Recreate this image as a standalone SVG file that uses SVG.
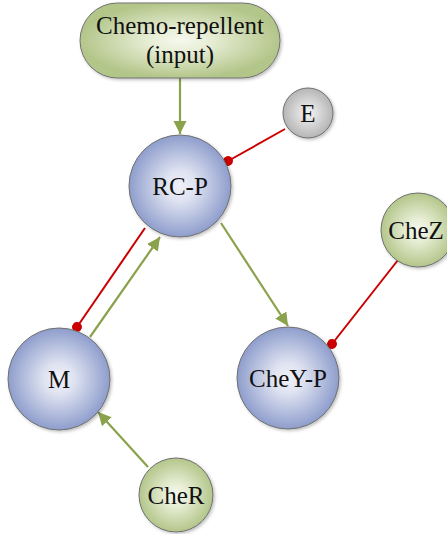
<svg xmlns="http://www.w3.org/2000/svg" width="447" height="534" viewBox="0 0 447 534">
<defs>
<radialGradient id="gBlue" cx="50%" cy="50%" r="50%">
<stop offset="0" stop-color="#f0f1f8"/><stop offset="0.3" stop-color="#dfe3f1"/><stop offset="1" stop-color="#8e9dcc"/>
</radialGradient>
<radialGradient id="gGreen" cx="50%" cy="50%" r="50%">
<stop offset="0" stop-color="#f6f8ee"/><stop offset="0.3" stop-color="#e8eed6"/><stop offset="1" stop-color="#b3c68a"/>
</radialGradient>
<radialGradient id="gGray" cx="50%" cy="50%" r="50%">
<stop offset="0" stop-color="#f6f6f6"/><stop offset="1" stop-color="#b5b5b5"/>
</radialGradient>
<filter id="sh" x="-20%" y="-20%" width="150%" height="150%">
<feDropShadow dx="1.5" dy="1.5" stdDeviation="1.5" flood-color="#000" flood-opacity="0.25"/>
</filter>
<marker id="arr" viewBox="0 0 10 10" refX="10" refY="5" markerWidth="6" markerHeight="6" markerUnits="strokeWidth" orient="auto">
<path d="M0,0 L10,5 L0,10 z" fill="#8aa24c"/>
</marker>
<marker id="dot" viewBox="0 0 10 10" refX="5" refY="5" markerWidth="5" markerHeight="5" markerUnits="strokeWidth" orient="auto">
<circle cx="5" cy="5" r="5" fill="#cc0000"/>
</marker>
</defs>
<style>
.n{stroke:#707070;stroke-width:1;filter:url(#sh)}
.t{font-family:"Liberation Serif","Times New Roman",serif;font-size:25px;fill:#111;text-anchor:middle}
.act{stroke:#8aa24c;stroke-width:2.2;fill:none;marker-end:url(#arr)}
.inh{stroke:#cc0000;stroke-width:2;fill:none;marker-end:url(#dot)}
</style>
<g id="connectors">
<line class="act" x1="180" y1="78" x2="180" y2="134"/>
<line class="inh" x1="285" y1="129" x2="228" y2="161"/>
<line class="inh" x1="145" y1="228" x2="77" y2="327"/>
<line class="act" x1="90" y1="337" x2="160" y2="237"/>
<line class="act" x1="221" y1="223" x2="288" y2="326"/>
<line class="inh" x1="398" y1="260" x2="332" y2="344"/>
<line class="act" x1="148" y1="467" x2="98" y2="412"/>
</g>
<g id="chemo">
<rect class="n" x="80" y="3" width="200" height="75" rx="37.5" fill="url(#gGreen)"/>
<text class="t" x="180" y="34">Chemo-repellent</text>
<text class="t" x="180" y="63">(input)</text>
</g>
<g id="E">
<circle class="n" cx="308" cy="113" r="25" fill="url(#gGray)"/>
<text class="t" x="308" y="122">E</text>
</g>
<g id="RCP">
<circle class="n" cx="180" cy="186" r="51" fill="url(#gBlue)"/>
<text class="t" x="180" y="195">RC-P</text>
</g>
<g id="CheZ">
<circle class="n" cx="418" cy="230" r="37" fill="url(#gGreen)"/>
<text class="t" x="416" y="239">CheZ</text>
</g>
<g id="M">
<circle class="n" cx="59" cy="379" r="51" fill="url(#gBlue)"/>
<text class="t" x="59" y="388">M</text>
</g>
<g id="CheYP">
<circle class="n" cx="288" cy="378" r="51" fill="url(#gBlue)"/>
<text class="t" x="288" y="387">CheY-P</text>
</g>
<g id="CheR">
<circle class="n" cx="176" cy="495" r="37" fill="url(#gGreen)"/>
<text class="t" x="176" y="504">CheR</text>
</g>
</svg>
